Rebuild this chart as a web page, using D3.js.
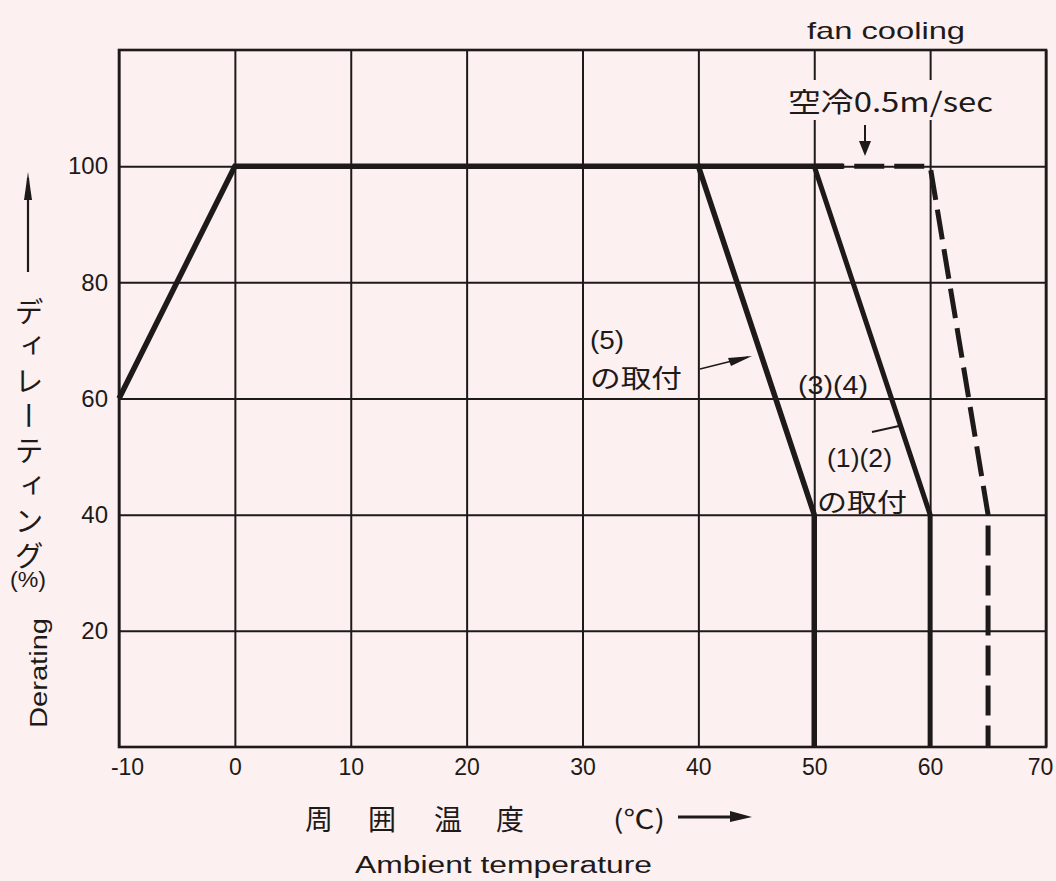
<!DOCTYPE html>
<html>
<head>
<meta charset="utf-8">
<script src="https://cdn.jsdelivr.net/npm/d3@7/dist/d3.min.js"></script>
<style>
  html, body { margin: 0; padding: 0; background: #fcf0f0; }
  svg { display: block; }
  text { font-family: "Liberation Sans", "DejaVu Sans", sans-serif; fill: #1e1a1a; }
  .jp { font-family: "Noto Sans CJK JP", sans-serif; }
</style>
</head>
<body>
<svg id="chart" width="1056" height="881"></svg>
<script>
// ---- data ----
const xTicks = [-10, 0, 10, 20, 30, 40, 50, 60, 70];
const xTickLabels = ["-10", "0", "10", "20", "30", "40", "50", "60", "70"];
const yTicks = [20, 40, 60, 80, 100];
// curve for mounting (5)
const temp5 = [-10, 0, 40, 50, 50];
const derate5 = [60, 100, 100, 40, 0];
// curve for mounting (1)(2)(3)(4)
const temp1234 = [50, 60, 60];
const derate1234 = [100, 40, 0];
// fan cooling 0.5 m/sec (dashed)
const tempFan = [50, 60, 65, 65];
const derateFan = [100, 100, 40, 0];

// ---- layout ----
const svg = d3.select("#chart");
const mLeft = 119, mRight = 1046, mTop = 50, mBottom = 747;
const x = d3.scaleLinear().domain([-10, 70]).range([mLeft, mRight]);
const y = d3.scaleLinear().domain([0, 120]).range([mBottom, mTop]);
const ink = "#1e1a1a";

// grid + tick labels via axes
const gx = svg.append("g").attr("transform", `translate(0,${mBottom})`)
  .call(d3.axisBottom(x).tickValues(xTicks).tickSize(-(mBottom - mTop))
    .tickFormat((d, i) => xTickLabels[i]).tickPadding(12));
gx.select(".domain").remove();
gx.selectAll(".tick line").attr("stroke", ink).attr("stroke-width", 2);
gx.selectAll(".tick text").attr("font-size", 23).attr("fill", ink)
  .attr("font-family", "Liberation Sans, sans-serif")
  .attr("dx", (d, i) => i === 0 ? 8 : (i === xTicks.length - 1 ? -6 : 0));

const gy = svg.append("g").attr("transform", `translate(${mLeft},0)`)
  .call(d3.axisLeft(y).tickValues(yTicks).tickSize(-(mRight - mLeft)).tickPadding(11));
gy.select(".domain").remove();
gy.selectAll(".tick line").attr("stroke", ink).attr("stroke-width", 2);
gy.selectAll(".tick text").attr("font-size", 24).attr("fill", ink)
  .attr("font-family", "Liberation Sans, sans-serif");

// frame
svg.append("rect").attr("x", mLeft).attr("y", mTop).attr("width", mRight - mLeft).attr("height", mBottom - mTop)
  .attr("fill", "none").attr("stroke", ink).attr("stroke-width", 2.6);

// label backdrop for fan label (breaks grid)
svg.append("rect").attr("x", 786).attr("y", 80).attr("width", 210).attr("height", 40).attr("fill", "#fcf0f0");

// curves
const line = d3.line().x(d => x(d[0])).y(d => y(d[1]));
const zip = (a, b) => a.map((v, i) => [v, b[i]]);

svg.append("path").datum(zip(tempFan, derateFan)).attr("d", line)
  .attr("fill", "none").attr("stroke", ink).attr("stroke-width", 5)
  .attr("stroke-dasharray", "30,10").attr("stroke-linejoin", "miter");
svg.append("path").datum(zip(temp5, derate5)).attr("d", line)
  .attr("fill", "none").attr("stroke", ink).attr("stroke-width", 5.5).attr("stroke-linejoin", "miter");
svg.append("path").datum(zip(temp1234, derate1234)).attr("d", line)
  .attr("fill", "none").attr("stroke", ink).attr("stroke-width", 5).attr("stroke-linejoin", "miter");
// extend solid top slightly beyond 50 as in reference
svg.append("line").attr("x1", x(40)).attr("x2", x(52.5)).attr("y1", y(100)).attr("y2", y(100))
  .attr("stroke", ink).attr("stroke-width", 5.5);

// annotations
svg.append("text").attr("x", 590).attr("y", 349).attr("font-size", 25)
  .attr("textLength", 34).attr("lengthAdjust", "spacingAndGlyphs").text("(5)");
svg.append("text").attr("class", "jp").attr("x", 590).attr("y", 388).attr("font-size", 26)
  .attr("textLength", 92).attr("lengthAdjust", "spacingAndGlyphs").text("の取付");
// leader (5)
svg.append("line").attr("x1", 700).attr("y1", 369).attr("x2", 748).attr("y2", 357)
  .attr("stroke", ink).attr("stroke-width", 1.8);
svg.append("path").attr("d", "M752,356 L728,358 L731,366 Z").attr("fill", ink);

svg.append("text").attr("x", 798).attr("y", 394).attr("font-size", 25)
  .attr("textLength", 70).attr("lengthAdjust", "spacingAndGlyphs").text("(3)(4)");
svg.append("text").attr("x", 827).attr("y", 467).attr("font-size", 25)
  .attr("textLength", 65).attr("lengthAdjust", "spacingAndGlyphs").text("(1)(2)");
svg.append("text").attr("class", "jp").attr("x", 817).attr("y", 512).attr("font-size", 26)
  .attr("textLength", 90).attr("lengthAdjust", "spacingAndGlyphs").text("の取付");
svg.append("line").attr("x1", 872).attr("y1", 432).attr("x2", 899).attr("y2", 426)
  .attr("stroke", ink).attr("stroke-width", 1.8);

// fan labels
svg.append("text").attr("x", 807).attr("y", 39).attr("font-size", 24)
  .attr("textLength", 158).attr("lengthAdjust", "spacingAndGlyphs").text("fan cooling");
svg.append("text").attr("class", "jp").attr("x", 788).attr("y", 112).attr("font-size", 27)
  .attr("textLength", 205).attr("lengthAdjust", "spacingAndGlyphs").text("空冷0.5m/sec");
svg.append("line").attr("x1", 865).attr("y1", 125).attr("x2", 865).attr("y2", 145)
  .attr("stroke", ink).attr("stroke-width", 2);
svg.append("path").attr("d", "M859,141 L871,141 L865,156 Z").attr("fill", ink);

// x axis title
const jpX = ["周", "囲", "温", "度"];
const jpXPos = [319, 382, 448, 510];
svg.selectAll(".jpx").data(jpX).join("text").attr("class", "jp")
  .attr("x", (d, i) => jpXPos[i]).attr("y", 830).attr("text-anchor", "middle")
  .attr("font-size", 28).text(d => d);
svg.append("text").attr("class", "jp").attr("x", 613).attr("y", 829).attr("font-size", 26)
  .attr("textLength", 52).attr("lengthAdjust", "spacingAndGlyphs").text("(℃)");
svg.append("line").attr("x1", 678).attr("y1", 817).attr("x2", 735).attr("y2", 817)
  .attr("stroke", ink).attr("stroke-width", 3);
svg.append("path").attr("d", "M730,811 L752,817 L730,822 Z").attr("fill", ink);
svg.append("text").attr("x", 355).attr("y", 873).attr("font-size", 23)
  .attr("textLength", 297).attr("lengthAdjust", "spacingAndGlyphs").text("Ambient temperature");

// y axis title
svg.append("line").attr("x1", 28).attr("y1", 272).attr("x2", 28).attr("y2", 178)
  .attr("stroke", ink).attr("stroke-width", 2.2);
svg.append("path").attr("d", "M24,200 L28,172 L32,200 Z").attr("fill", ink);
svg.append("text").attr("class", "jp").attr("x", 29).attr("y", 297)
  .attr("font-size", 29).style("writing-mode", "vertical-rl")
  .attr("textLength", 273).attr("lengthAdjust", "spacing")
  .text("ディレーティング");
svg.append("text").attr("x", 10).attr("y", 587)
  .attr("font-size", 22).attr("textLength", 36).attr("lengthAdjust", "spacingAndGlyphs").text("(%)");
svg.append("text").attr("transform", "translate(47,673) rotate(-90)")
  .attr("text-anchor", "middle").attr("font-size", 23)
  .attr("textLength", 110).attr("lengthAdjust", "spacingAndGlyphs").text("Derating");
</script>
</body>
</html>
